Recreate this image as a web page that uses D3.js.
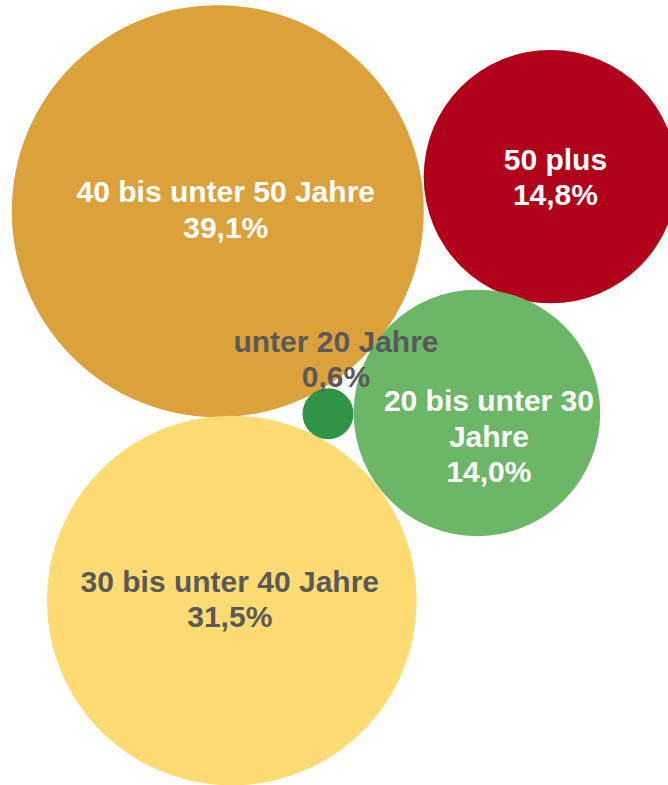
<!DOCTYPE html>
<html lang="de">
<head>
<meta charset="utf-8">
<script src="https://cdn.jsdelivr.net/npm/d3@7"></script>
<style>
  html, body { margin: 0; padding: 0; background: #fff; }
  svg { display: block; }
  .label { font-family: "Liberation Sans", Arial, sans-serif; font-weight: bold; font-size: 30px; }
</style>
</head>
<body>
<svg id="chart"></svg>
<script>
// Altersgruppen mit Anteil (%) und x/y-Werten des Blasendiagramms
var categories = ["40 bis unter 50 Jahre", "50 plus", "20 bis unter 30 Jahre", "30 bis unter 40 Jahre", "unter 20 Jahre"];
var shares = [39.1, 14.8, 14.0, 31.5, 0.6];
var xValues = [32.6, 82.4, 71.4, 34.7, 49.1];
var yValues = [73.1, 77.5, 47.4, 23.5, 47.3];

var colors = ["#DBA23C", "#B0001A", "#6BB767", "#FFDB73", "#2F9446"];
var textColors = ["#FFFFFF", "#FFFFFF", "#FFFFFF", "#595959", "#595959"];

var width = 668;
var height = 785;
var lineHeight = 35.5;

// small manual nudges of the data labels, like in the original
var labelNudge = {
  "40 bis unter 50 Jahre": [8, -2],
  "50 plus": [5, 0],
  "20 bis unter 30 Jahre": [12, 23],
  "30 bis unter 40 Jahre": [-2, -2],
  "unter 20 Jahre": [8, 0]
};

var svg = d3.select("#chart")
  .attr("width", width)
  .attr("height", height);

var data = categories.map(function(c, i) {
  return { name: c, value: shares[i], x: xValues[i], y: yValues[i], color: colors[i], text: textColors[i] };
});

var xScale = d3.scaleLinear().domain([0, 100]).range([0, width]);
var yScale = d3.scaleLinear().domain([0, 100]).range([height, 0]);
var rScale = d3.scaleSqrt()
  .domain([0, d3.max(shares)])
  .range([0, 206]);

var de = d3.formatLocale({ decimal: ",", thousands: ".", grouping: [3], currency: ["", " €"] });
var fmt = de.format(".1f");

// Bubbles
svg.selectAll(".bubble")
  .data(data)
  .enter()
  .append("circle")
  .attr("class", "bubble")
  .attr("cx", function(d) { return xScale(d.x); })
  .attr("cy", function(d) { return yScale(d.y); })
  .attr("r", function(d) { return rScale(d.value); })
  .style("fill", function(d) { return d.color; });

// Labels
var labels = svg.selectAll(".label")
  .data(data)
  .enter()
  .append("text")
  .attr("class", "label")
  .attr("text-anchor", "middle")
  .style("fill", function(d) { return d.text; });

labels.each(function(d) {
  var t = d3.select(this);
  var r = rScale(d.value);
  var outside = r < 60;
  var maxW = 2 * r * 0.88;

  // wrap the category name word by word
  var words = d.name.split(" ");
  var lines = [];
  var line = [];
  var probe = t.append("tspan");
  words.forEach(function(w) {
    line.push(w);
    probe.text(line.join(" "));
    if (!outside && line.length > 1 && probe.node().getComputedTextLength() > maxW) {
      line.pop();
      lines.push(line.join(" "));
      line = [w];
    }
  });
  lines.push(line.join(" "));
  probe.remove();
  lines.push(fmt(d.value) + "%");

  var nudge = labelNudge[d.name] || [0, 0];
  var cx = xScale(d.x) + nudge[0];
  var cy = yScale(d.y) + nudge[1];
  var first;
  if (outside) {
    // last line sits just on top of the small bubble
    first = cy - r - 1 - (lines.length - 1) * lineHeight;
  } else {
    first = cy - (lines.length - 1) * lineHeight / 2 + 10.75;
  }

  lines.forEach(function(l, i) {
    t.append("tspan")
      .attr("x", cx)
      .attr("y", first + i * lineHeight)
      .text(l);
  });
});
</script>
</body>
</html>
